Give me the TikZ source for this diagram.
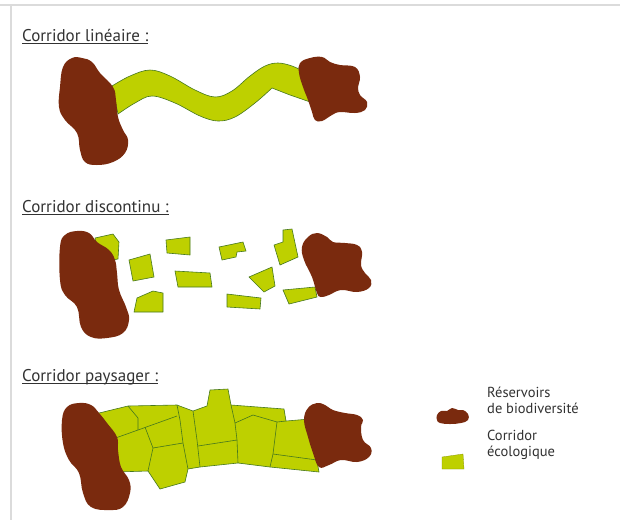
\documentclass[tikz,border=0pt]{standalone}
\usepackage{fontspec}
\setmainfont{PT Sans}
\usepackage{tikz}
\definecolor{Reservoir}{RGB}{122,42,14}
\definecolor{CorrGreen}{RGB}{190,208,0}
\definecolor{CorrEdge}{RGB}{70,120,30}
\definecolor{TextGray}{RGB}{50,50,50}
\tikzset{
  blob/.style={fill=Reservoir},
  corr/.style={fill=CorrGreen, draw=CorrEdge, line width=0.6pt, line join=round},
  cell/.style={draw=CorrEdge, line width=0.6pt, line join=round},
  titre/.style={anchor=base west, inner sep=0pt, text=TextGray, font=\fontsize{17}{19}\selectfont},
  uline/.style={TextGray, line width=0.8pt},
  legtxt/.style={anchor=base west, inner sep=0pt, text=TextGray, align=left,
    font=\fontsize{14.5}{16}\selectfont},
  frame/.style={gray!28, line width=2pt},
}

\begin{document}
\begin{tikzpicture}[x=1pt, y=-1pt]
  \useasboundingbox (0,0) rectangle (620,520);
  \fill[white] (0,0) rectangle (620,520);
  \draw[frame] (0,5) -- (620,5);
  \draw[frame] (11,5) -- (11,520);

  % corridor lineaire
  \node[titre] (t1) at (22,41) {Corridor linéaire :};
  \draw[uline] ([yshift=-2pt]t1.base west) -- ([yshift=-2pt]t1.base east);
  \filldraw[corr] plot[smooth, tension=0.6] coordinates {(112,86) (130,76) (150,70) (170,76) (195,90)
      (215,97) (232,91) (250,76) (265,66) (278,63) (292,66) (305,72)}
    -- (316,104) -- (290,95)
    -- plot[smooth, tension=0.6] coordinates {(272,88) (255,103) (235,117) (218,121) (200,116)
      (175,103) (152,96) (135,103) (118,114)} -- cycle;
  \fill[blob] plot[smooth cycle, tension=0.7] coordinates {(72,58) (82,58) (92,62) (100,73) (113,87)
    (116,100) (118,117) (123,130) (128,140) (125,153) (113,162) (97,165) (85,162) (80,150)
    (77,133) (65,120) (59,107) (60,87) (63,67)};
  \fill[blob] plot[smooth cycle, tension=0.7] coordinates {(300,63) (310,58) (322,57) (330,62)
    (340,65) (355,67) (360,77) (358,87) (360,95) (367,102) (365,110) (355,113) (340,112)
    (332,115) (322,121) (315,120) (312,112) (308,100) (303,87) (299,73)};

  % corridor discontinu
  \node[titre] (t2) at (22,212) {Corridor discontinu :};
  \draw[uline] ([yshift=-2pt]t2.base west) -- ([yshift=-2pt]t2.base east);
  \foreach \p in {
      {(95,238) (113,234) (119,242) (118,259) (100,262)},
      {(129,260) (150,254) (154,277) (133,281)},
      {(166,240) (190,237) (190,255) (167,253)},
      {(175,271) (210,273) (212,287) (178,287)},
      {(134,312) (137,298) (153,291) (163,293) (163,312)},
      {(219,247) (243,242) (246,251) (237,252) (236,257) (222,260)},
      {(274,245) (283,242) (283,230) (292,229) (298,257) (280,265)},
      {(249,277) (272,267) (275,286) (264,292)},
      {(227,294) (261,298) (260,309) (227,307)},
      {(283,290) (315,287) (317,297) (289,304)}}
    \filldraw[corr] plot coordinates {\p} -- cycle;
  \fill[blob] plot[smooth cycle, tension=0.7] coordinates {(77,231) (89,233) (97,242) (109,250)
    (115,260) (117,273) (119,290) (126,307) (129,320) (123,333) (107,338) (91,337) (81,327)
    (77,307) (65,295) (60,280) (60,247) (65,235)};
  \fill[blob] plot[smooth cycle, tension=0.7] coordinates {(317,233) (327,237) (333,242) (345,243)
    (357,245) (362,252) (361,265) (365,273) (371,280) (369,288) (357,292) (341,290) (329,295)
    (321,297) (317,293) (312,277) (304,260) (302,247) (308,237)};

  % corridor paysager
  \node[titre] (t3) at (22,381) {Corridor paysager :};
  \draw[uline] ([yshift=-2pt]t3.base west) -- ([yshift=-2pt]t3.base east);
  \filldraw[corr] (95,414) -- (128,406) -- (177,405) -- (193,411) -- (207,406) -- (210,390)
    -- (228,389) -- (231,405) -- (284,409) -- (286,421) -- (310,419) -- (314,445) -- (319,472)
    -- (270,467) -- (238,463) -- (200,467) -- (188,469) -- (185,482) -- (160,489) -- (148,471)
    -- (115,472) -- (110,440) -- cycle;
  \draw[cell] (128,406) -- (138,418) -- (138,430);
  \draw[cell] (110,440) -- (138,430) -- (177,416);
  \draw[cell] (145,427) -- (153,448) -- (148,471);
  \draw[cell] (153,448) -- (183,443);
  \draw[cell] (177,405) -- (180,420) -- (183,443) -- (188,469);
  \draw[cell] (193,411) -- (197,440) -- (200,467);
  \draw[cell] (198,446) -- (237,440);
  \draw[cell] (231,405) -- (235,423) -- (237,440) -- (238,463);
  \draw[cell] (235,423) -- (253,415) -- (277,422) -- (286,421);
  \draw[cell] (277,422) -- (273,454) -- (270,467);
  \draw[cell] (273,454) -- (317,460);
  \fill[blob] plot[smooth cycle, tension=0.7] coordinates {(79,403) (91,405) (99,413) (107,423)
    (117,437) (118,450) (121,467) (129,480) (130,493) (123,507) (109,510) (91,507) (83,493)
    (79,473) (69,460) (63,443) (62,420) (67,407)};
  \fill[blob] plot[smooth cycle, tension=0.7] coordinates {(317,403) (325,405) (333,410) (345,413)
    (357,415) (363,420) (361,427) (363,440) (371,448) (369,457) (357,462) (341,460) (329,465)
    (319,467) (313,453) (308,437) (304,420) (308,408)};

  % legende
  \fill[blob] plot[smooth cycle, tension=0.7] coordinates {(437,415) (441,411) (447,411) (452,408)
    (458,410) (463,410) (468,414) (468,420) (461,423) (450,424) (440,423) (437,420)};
  \node[legtxt] (lres) at (487,413) {Réservoirs\\[-0.5pt]de biodiversité};
  \filldraw[corr, draw=CorrGreen!70!black, line width=0.3pt] (442,457) -- (463,454) -- (464,469) -- (442,469) -- cycle;
  \node[legtxt] (lcor) at (487,456) {Corridor\\[-0.5pt]écologique};
\end{tikzpicture}
\end{document}
